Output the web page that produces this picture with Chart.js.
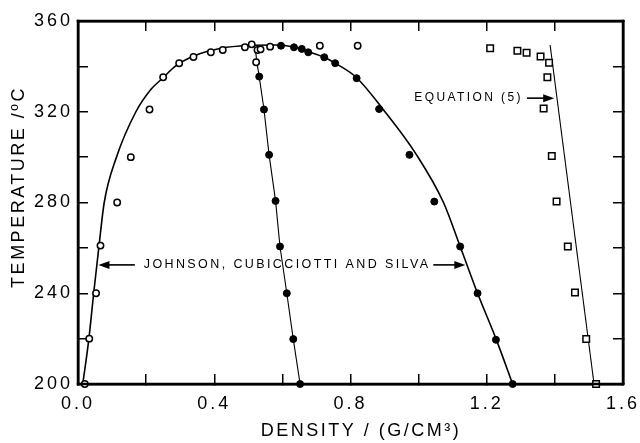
<!DOCTYPE html>
<html>
<head>
<meta charset="utf-8">
<script src="https://cdn.jsdelivr.net/npm/chart.js@4.4.1/dist/chart.umd.min.js"></script>
<style>
  html, body { margin: 0; padding: 0; background: #fff; }
  #wrap { width: 640px; height: 443px; position: relative; }
</style>
</head>
<body>
<div id="wrap"><canvas id="c" width="640" height="443"></canvas></div>
<script>
// ---- Data ----
const xTickValues = [0.0, 0.2, 0.4, 0.6, 0.8, 1.0, 1.2, 1.4, 1.6];
const xTickLabels = ['0.0', '', '0.4', '', '0.8', '', '1.2', '', '1.6'];
const yTickValues = [200, 220, 240, 260, 280, 300, 320, 340, 360];
const yTickLabels = ['200', '', '240', '', '280', '', '320', '', '360'];

// Open circles (vapour)
const openCircleX = [0.02, 0.033, 0.053, 0.066, 0.115, 0.155, 0.21, 0.25, 0.297, 0.339, 0.39, 0.425, 0.49, 0.51, 0.527, 0.536, 0.523, 0.564, 0.71, 0.821];
const openCircleY = [200, 220, 240, 261, 280, 300, 321, 335.2, 341.4, 344.1, 346.2, 347.2, 348.4, 349.7, 347.2, 347.5, 341.8, 348.7, 349.1, 349.1];

// Filled circles (liquid)
const filledCircleX = [0.532, 0.546, 0.561, 0.58, 0.593, 0.613, 0.632, 0.652,
                       0.596, 0.634, 0.657, 0.676, 0.723, 0.755, 0.818, 0.884, 0.973, 1.046, 1.122, 1.173, 1.227, 1.276];
const filledCircleY = [335.5, 321, 301, 280.7, 260.6, 240, 219.8, 200,
                       349.1, 348.4, 347.7, 346.2, 344, 341.4, 334.8, 321.2, 301, 280.4, 260.6, 240, 219.5, 200];

// Open squares
const squareX = [1.21, 1.29, 1.317, 1.358, 1.383, 1.378, 1.367, 1.391, 1.405, 1.438, 1.459, 1.492, 1.521];
const squareY = [348, 346.9, 346, 344.3, 341.6, 335.2, 321.4, 300.5, 280.4, 260.6, 240.3, 219.8, 200];

// Johnson, Cubicciotti and Silva curve
const jcsX = [0.014, 0.032, 0.046, 0.061, 0.077, 0.113, 0.17, 0.215, 0.25, 0.285, 0.34, 0.42, 0.5, 0.58, 0.634, 0.676, 0.723, 0.755, 0.818, 0.896, 0.994, 1.073, 1.122, 1.173, 1.227, 1.276];
const jcsY = [200, 220, 240, 260, 280, 300, 320, 330, 335, 340, 344.6, 348, 349.2, 349.4, 348.5, 346.5, 344, 341.4, 335, 321, 301, 280, 260.6, 240, 220, 200];

// Steep liquid line
const liqLineX = [0.52, 0.525, 0.532, 0.546, 0.561, 0.58, 0.593, 0.613, 0.632, 0.652];
const liqLineY = [348.5, 342, 335.5, 321, 301, 280.7, 260.6, 240, 219.8, 200];

// Equation (5)
const eqX = [1.386, 1.515];
const eqY = [349.4, 200];

// Annotation anchors (data coordinates)
const eqLabel = { text: 'EQUATION (5)', textEndX: 1.306, arrowFromX: 1.318, arrowToX: 1.398, y: 326 };
const jcsLabel = { text: 'JOHNSON, CUBICCIOTTI AND SILVA', startX: 0.193,
                   leftArrowFrom: 0.167, leftArrowTo: 0.06, rightArrowFrom: 1.043, rightArrowTo: 1.137, y: 252.5 };

const pts = (xs, ys) => xs.map((x, i) => ({ x, y: ys[i] }));
const FONT = '"Liberation Sans", Arial, Helvetica, sans-serif';

function arrow(ctx, x1, y, x2) {
  const dir = Math.sign(x2 - x1);
  const shaftEnd = x2 - dir * 8;
  ctx.fillRect(Math.min(x1, shaftEnd), y - 0.8, Math.abs(shaftEnd - x1), 1.6);
  ctx.beginPath();
  ctx.moveTo(x2, y);
  ctx.lineTo(x2 - dir * 11, y - 4);
  ctx.lineTo(x2 - dir * 11, y + 4);
  ctx.closePath();
  ctx.fill();
}

// Shared axis styling: thick black border, short inward tick marks (negative tick length)
const axisGrid = { display: true, drawOnChartArea: false, drawTicks: true, tickLength: -10,
                   tickWidth: 1.5, tickColor: '#000', color: '#000', lineWidth: 1.5 };
const axisBorder = { display: true, color: '#000', width: 2.5 };

const framePlugin = {
  id: 'frame',
  beforeDraw(chart) {
    chart.ctx.letterSpacing = '3px';
  },
  afterDatasetsDraw(chart) {
    // backup frame drawn from the chart area
    const ctx = chart.ctx, a = chart.chartArea;
    if (!a) return;
    ctx.save();
    ctx.fillStyle = '#000';
    const w = 2.5, h = w / 2;
    ctx.fillRect(a.left - h, a.top - h, a.right - a.left + w, w);
    ctx.fillRect(a.left - h, a.bottom - h, a.right - a.left + w, w);
    ctx.fillRect(a.left - h, a.top - h, w, a.bottom - a.top + w);
    ctx.fillRect(a.right - h, a.top - h, w, a.bottom - a.top + w);
    ctx.restore();
  },
  afterDraw(chart) {
    const ctx = chart.ctx;
    const x = chart.scales.x, y = chart.scales.y;
    ctx.save();
    ctx.fillStyle = '#000';

    // axis titles
    ctx.font = '18px ' + FONT;
    ctx.letterSpacing = '2.5px';
    ctx.textBaseline = 'middle';
    ctx.textAlign = 'center';
    ctx.fillText('DENSITY / (G/CM³)', 361, 431);
    ctx.save();
    ctx.translate(19, 187);
    ctx.rotate(-Math.PI / 2);
    ctx.fillText('TEMPERATURE /ºC', 0, 0);
    ctx.restore();

    // annotations
    ctx.font = '12px ' + FONT;
    ctx.letterSpacing = '2.4px';
    ctx.textAlign = 'right';
    const ey = y.getPixelForValue(eqLabel.y);
    ctx.fillText(eqLabel.text, x.getPixelForValue(eqLabel.textEndX), ey);
    arrow(ctx, x.getPixelForValue(eqLabel.arrowFromX), ey, x.getPixelForValue(eqLabel.arrowToX));

    ctx.font = '12.5px ' + FONT;
    ctx.letterSpacing = '2.4px';
    ctx.textAlign = 'left';
    const jy = y.getPixelForValue(jcsLabel.y);
    ctx.fillText(jcsLabel.text, x.getPixelForValue(jcsLabel.startX), jy);
    arrow(ctx, x.getPixelForValue(jcsLabel.leftArrowFrom), jy, x.getPixelForValue(jcsLabel.leftArrowTo));
    arrow(ctx, x.getPixelForValue(jcsLabel.rightArrowFrom), jy, x.getPixelForValue(jcsLabel.rightArrowTo));
    ctx.restore();
  }
};

const xTickCallback = (v) => { const i = xTickValues.findIndex(t => Math.abs(t - v) < 1e-6); return i >= 0 ? xTickLabels[i] : ''; };
const yTickCallback = (v) => { const i = yTickValues.indexOf(v); return i >= 0 ? yTickLabels[i] : ''; };

new Chart(document.getElementById('c'), {
  type: 'scatter',
  data: {
    datasets: [
      { data: pts(jcsX, jcsY), showLine: true, borderColor: '#000', borderWidth: 1.6,
        pointRadius: 0, cubicInterpolationMode: 'monotone', clip: false, order: 5 },
      { data: pts(liqLineX, liqLineY), showLine: true, borderColor: '#000', borderWidth: 1.1,
        pointRadius: 0, clip: false, order: 5 },
      { data: pts(eqX, eqY), showLine: true, borderColor: '#000', borderWidth: 1.1,
        pointRadius: 0, clip: false, order: 5 },
      { data: pts(openCircleX, openCircleY), pointStyle: 'circle', pointRadius: 3.2, clip: false,
        pointBackgroundColor: '#fff', pointBorderColor: '#000', pointBorderWidth: 1.5, order: 1 },
      { data: pts(filledCircleX, filledCircleY), pointStyle: 'circle', pointRadius: 3.5, clip: false,
        pointBackgroundColor: '#000', pointBorderColor: '#000', pointBorderWidth: 1, order: 1 },
      { data: pts(squareX, squareY), pointStyle: 'rect', pointRadius: 4.6, clip: false,
        pointBackgroundColor: '#fff', pointBorderColor: '#000', pointBorderWidth: 1.5, order: 1 }
    ]
  },
  options: {
    responsive: false,
    animation: false,
    events: [],
    layout: { padding: { top: 21, right: 17, left: 0, bottom: 0 } },
    plugins: { legend: { display: false }, tooltip: { enabled: false } },
    scales: {
      x: {
        type: 'linear', position: 'bottom', min: 0, max: 1.6,
        afterBuildTicks: s => { s.ticks = xTickValues.map(v => ({ value: v })); },
        ticks: { autoSkip: false, maxRotation: 0, padding: 19, color: '#000',
                 font: { size: 18, family: FONT }, callback: xTickCallback },
        grid: axisGrid, border: axisBorder,
        afterFit: s => { s.height = 59; s.paddingLeft = 0; s.paddingRight = 0; }
      },
      x2: {
        type: 'linear', position: 'top', min: 0, max: 1.6,
        afterBuildTicks: s => { s.ticks = xTickValues.map(v => ({ value: v })); },
        ticks: { display: false },
        grid: axisGrid, border: axisBorder,
        afterFit: s => { s.height = 0; s.paddingLeft = 0; s.paddingRight = 0; }
      },
      y: {
        type: 'linear', position: 'left', min: 200, max: 360,
        afterBuildTicks: s => { s.ticks = yTickValues.map(v => ({ value: v })); },
        ticks: { autoSkip: false, padding: 15, color: '#000',
                 font: { size: 18, family: FONT }, callback: yTickCallback },
        grid: axisGrid, border: axisBorder,
        afterFit: s => { s.width = 78; s.paddingTop = 0; s.paddingBottom = 0; }
      },
      y2: {
        type: 'linear', position: 'right', min: 200, max: 360,
        afterBuildTicks: s => { s.ticks = yTickValues.map(v => ({ value: v })); },
        ticks: { display: false },
        grid: axisGrid, border: axisBorder,
        afterFit: s => { s.width = 0; s.paddingTop = 0; s.paddingBottom = 0; }
      }
    }
  },
  plugins: [framePlugin]
});
</script>
</body>
</html>
